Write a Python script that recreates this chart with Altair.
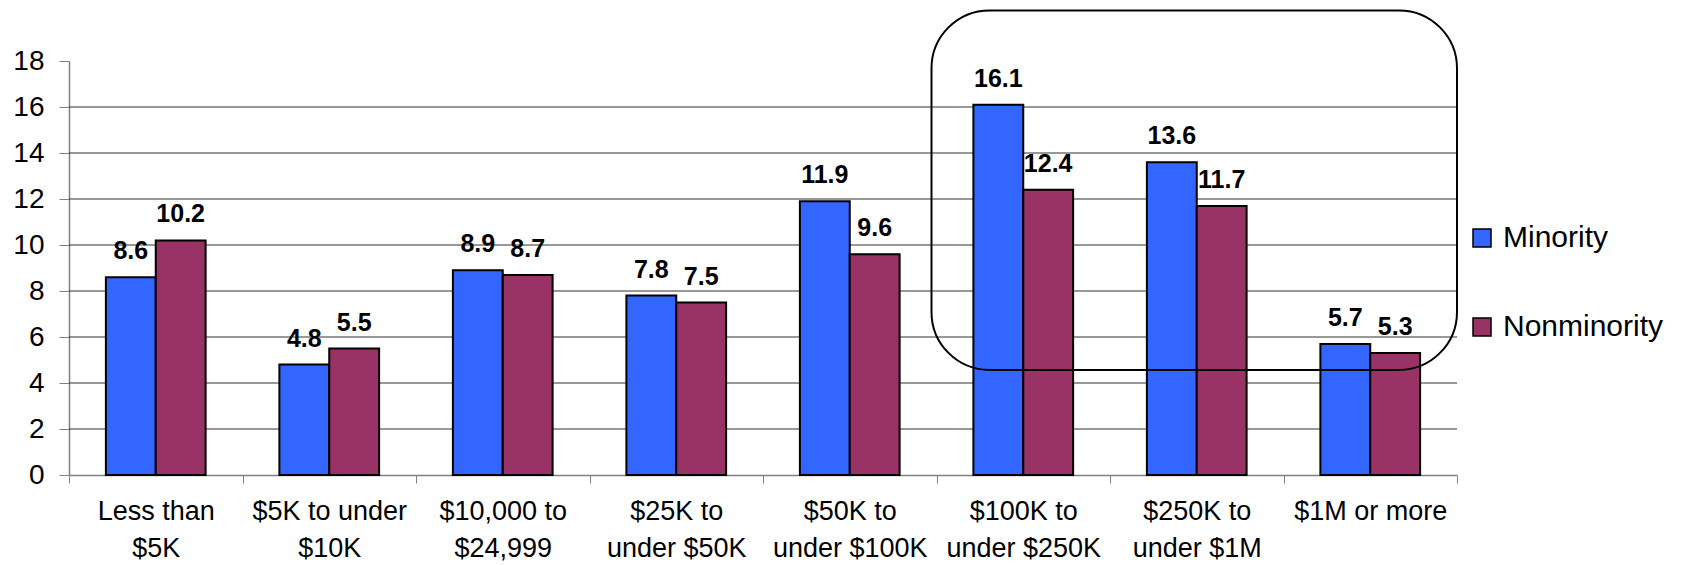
import altair as alt
import pandas as pd

# Share of firms by receipts size class, minority vs. nonminority owners
CATEGORIES = [
    "Less than\n$5K",
    "$5K to under\n$10K",
    "$10,000 to\n$24,999",
    "$25K to\nunder $50K",
    "$50K to\nunder $100K",
    "$100K to\nunder $250K",
    "$250K to\nunder $1M",
    "$1M or more",
]
MINORITY = [8.6, 4.8, 8.9, 7.8, 11.9, 16.1, 13.6, 5.7]
NONMINORITY = [10.2, 5.5, 8.7, 7.5, 9.6, 12.4, 11.7, 5.3]
SERIES = ["Minority", "Nonminority"]
COLORS = ["#3366FF", "#993366"]
Y_TICKS = list(range(0, 19, 2))
GRID_VALUES = list(range(2, 17, 2))

# layout
STEP = 173.5
W = STEP * len(CATEGORIES)
H = 414
Y_MAX = 18
PX_PER_UNIT = H / Y_MAX
FONT = "Liberation Sans"

rows = []
for cat, m, n in zip(CATEGORIES, MINORITY, NONMINORITY):
    rows.append({"cat": cat, "series": SERIES[0], "value": m})
    rows.append({"cat": cat, "series": SERIES[1], "value": n})
df = pd.DataFrame(rows)
grid_df = pd.DataFrame({"g": GRID_VALUES})

x_enc = alt.X(
    "cat:N",
    sort=CATEGORIES,
    scale=alt.Scale(paddingInner=0, paddingOuter=0),
    axis=alt.Axis(
        title=None,
        labelAngle=0,
        labelExpr="split(datum.label, '\\n')",
        labelFont=FONT,
        labelFontSize=27,
        labelColor="black",
        labelLineHeight=37,
        labelPadding=15,
        labelBaseline="top",
        tickBand="extent",
        tickSize=8,
        tickColor="#808080",
        domainColor="#808080",
        domainWidth=1.5,
        grid=False,
    ),
)
y_scale = alt.Scale(domain=[0, Y_MAX], nice=False)
y_enc = alt.Y(
    "value:Q",
    scale=y_scale,
    axis=alt.Axis(
        title=None,
        values=Y_TICKS,
        labelFont=FONT,
        labelFontSize=28,
        labelColor="black",
        labelPadding=15,
        tickSize=10,
        tickColor="#808080",
        domainColor="#808080",
        domainWidth=1.5,
        grid=False,
    ),
)
xoff = alt.XOffset(
    "series:N", sort=SERIES, scale=alt.Scale(paddingInner=0, paddingOuter=0.74)
)
color = alt.Color(
    "series:N",
    sort=SERIES,
    scale=alt.Scale(domain=SERIES, range=COLORS),
    legend=alt.Legend(
        title=None,
        orient="none",
        legendX=W + 10,
        legendY=162,
        direction="vertical",
        symbolType="square",
        symbolSize=324,
        symbolStrokeColor="black",
        symbolStrokeWidth=1.5,
        symbolOpacity=1,
        labelFont=FONT,
        labelFontSize=30,
        labelColor="black",
        labelOffset=6,
        labelLimit=400,
        rowPadding=59,
        padding=0,
    ),
)

grid = alt.Chart(grid_df).mark_rule(color="#333333", strokeWidth=1).encode(
    y=alt.Y("g:Q", scale=y_scale)
)

bars = alt.Chart(df).mark_bar(stroke="black", strokeWidth=2, opacity=1).encode(
    x=x_enc, xOffset=xoff, y=y_enc, color=color
)

labels = alt.Chart(df).mark_text(
    font=FONT, fontSize=25, fontWeight="bold", color="black", baseline="middle", dy=-26
).encode(
    x=alt.X("cat:N", sort=CATEGORIES),
    xOffset=alt.XOffset("series:N", sort=SERIES),
    y=alt.Y("value:Q", scale=y_scale),
    text=alt.Text("value:Q", format=".1f"),
)

# rounded frame around the three largest size classes
box = alt.Chart(pd.DataFrame({"k": [0]})).mark_rect(
    fill=None, fillOpacity=0, stroke="black", strokeWidth=2, cornerRadius=58, clip=False
).encode(
    x=alt.value(5 * STEP - 5),
    x2=alt.value(8 * STEP),
    y=alt.value(H - 20.2 * PX_PER_UNIT),
    y2=alt.value(H - 4.57 * PX_PER_UNIT),
)

chart = (
    alt.layer(grid, bars, labels, box)
    .properties(
        width=W,
        height=H,
        padding={"left": 69, "top": 61, "right": 1681 - 69 - W, "bottom": 565 - 61 - H},
        autosize=alt.AutoSizeParams(type="none"),
        background="white",
    )
    .configure_view(stroke=None)
)

chart.save("out.html", embed_options={"renderer": "svg", "actions": False})
